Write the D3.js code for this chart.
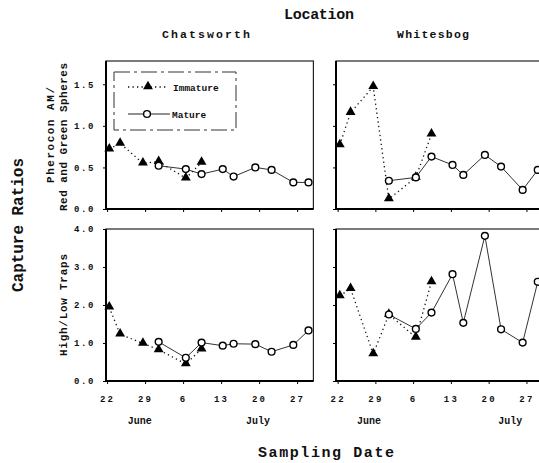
<!DOCTYPE html>
<html>
<head>
<meta charset="utf-8">
<script src="https://cdn.jsdelivr.net/npm/d3@7"></script>
<style>
  html, body { margin: 0; padding: 0; background: #fff; }
  svg { display: block; }
  text { font-family: "Liberation Mono", "DejaVu Sans Mono", monospace; font-weight: bold; fill: #111; }
</style>
</head>
<body>
<svg id="chart" width="539" height="463"></svg>
<script>
// sampling dates, as days after 22 June
const sampleDay = [0.4, 2.4, 6.6, 9.5, 14.5, 17.4, 21.3, 23.3, 27.3, 30.3, 34.3, 37.1];
const weekTicks = [0, 7, 14, 21, 28, 35];
const weekLabels = ["22", "29", "6", "13", "20", "27"];
const monthLabels = ["June", "July"];
const monthDayLeft = [6, 27.8];
const monthDayRight = [5.8, 32];

// Pherocon AM / red and green spheres
const chatsImmSph = [0.72, 0.79, 0.55, 0.57, 0.37, 0.56, null, null, null, null, null, null];
const chatsMatSph = [null, null, null, 0.52, 0.48, 0.42, 0.48, 0.39, 0.50, 0.47, 0.32, 0.32];
const whitImmSph = [0.77, 1.16, 1.47, 0.12, 0.38, 0.90, null, null, null, null, null, null];
const whitMatSph = [null, null, null, 0.34, 0.38, 0.63, 0.53, 0.41, 0.65, 0.51, 0.23, 0.47];

// high / low traps
const chatsImmHL = [1.94, 1.23, 0.99, 0.82, 0.45, 0.84, null, null, null, null, null, null];
const chatsMatHL = [null, null, null, 1.03, 0.61, 1.01, 0.93, 0.98, 0.97, 0.77, 0.95, 1.33];
const whitImmHL = [2.24, 2.43, 0.71, 1.75, 1.15, 2.61, null, null, null, null, null, null];
const whitMatHL = [null, null, null, 1.75, 1.37, 1.80, 2.81, 1.53, 3.82, 1.36, 1.01, 2.61];

const sphTicks = [0, 0.5, 1.0, 1.5];
const hlTicks = [0, 1, 2, 3, 4];

const svg = d3.select("#chart");

// x scales for the two columns
const xLeft = d3.scaleLinear().domain([-0.2, 38]).range([106, 313.4]);
const xRight = d3.scaleLinear().domain([-0.3, 39]).range([336, 548]);
// y scales for the two rows
const ySph = d3.scaleLinear().domain([0, 1.78]).range([209, 61]);
const yHL = d3.scaleLinear().domain([0, 4]).range([381, 229]);

const panels = [
    { x: xLeft, y: ySph, imm: chatsImmSph, mat: chatsMatSph, yLabels: true, xLabels: false, legend: true },
    { x: xRight, y: ySph, imm: whitImmSph, mat: whitMatSph, yLabels: false, xLabels: false },
    { x: xLeft, y: yHL, imm: chatsImmHL, mat: chatsMatHL, yLabels: true, xLabels: true, ticks: hlTicks, months: monthDayLeft },
    { x: xRight, y: yHL, imm: whitImmHL, mat: whitMatHL, yLabels: false, xLabels: true, ticks: hlTicks, months: monthDayRight }
];

function pts(values) {
    return values.map((v, i) => ({ d: sampleDay[i], v: v })).filter(p => p.v !== null);
}

const tri = d3.symbol().type(d3.symbolTriangle).size(42);

panels.forEach(p => {
    const [x0, x1] = p.x.range();
    const [y0, y1] = p.y.range();
    const g = svg.append("g");

    // frame
    g.append("rect")
        .attr("x", x0).attr("y", y1)
        .attr("width", x1 - x0).attr("height", y0 - y1)
        .attr("fill", "none").attr("stroke", "#222").attr("stroke-width", 1.2);
    g.append("path")
        .attr("d", "M" + x0 + "," + y1 + "V" + y0 + "H" + x1)
        .attr("fill", "none").attr("stroke", "#000").attr("stroke-width", 2);

    // y axis
    const ya = g.append("g")
        .attr("transform", "translate(" + x0 + ",0)")
        .call(d3.axisLeft(p.y).tickValues(p.ticks || sphTicks).tickSize(3).tickPadding(8)
            .tickFormat(p.yLabels ? d3.format(".1f") : ""));
    ya.select(".domain").remove();
    ya.selectAll("text").style("font-size", "9px").style("letter-spacing", "1.6px")
        .style("font-family", "'Liberation Mono', monospace");

    // x axis
    const xa = g.append("g")
        .attr("transform", "translate(0," + y0 + ")")
        .call(d3.axisBottom(p.x).tickValues(weekTicks).tickSize(3).tickPadding(12)
            .tickFormat((d, i) => p.xLabels ? weekLabels[i] : ""));
    xa.select(".domain").remove();
    xa.selectAll("text").style("font-size", "9px").style("letter-spacing", "2.2px")
        .style("font-family", "'Liberation Mono', monospace");

    if (p.months) {
        monthLabels.forEach((m, i) => {
            g.append("text")
                .attr("x", p.x(p.months[i])).attr("y", y0 + 43)
                .attr("text-anchor", "middle")
                .style("font-size", "10px")
                .text(m);
        });
    }

    const line = d3.line().x(d => p.x(d.d)).y(d => p.y(d.v));
    const imm = pts(p.imm);
    const mat = pts(p.mat);

    g.append("path")
        .attr("d", line(imm))
        .attr("fill", "none").attr("stroke", "#111")
        .attr("stroke-width", 1.3).attr("stroke-dasharray", "1.3,3.2");
    g.append("path")
        .attr("d", line(mat))
        .attr("fill", "none").attr("stroke", "#333").attr("stroke-width", 1);

    g.selectAll(".tri").data(imm).enter().append("path")
        .attr("class", "tri")
        .attr("d", tri)
        .attr("transform", d => "translate(" + p.x(d.d) + "," + (p.y(d.v) - 0.5) + ")")
        .attr("fill", "#000");
    g.selectAll(".dot").data(mat).enter().append("circle")
        .attr("class", "dot")
        .attr("cx", d => p.x(d.d)).attr("cy", d => p.y(d.v))
        .attr("r", 3.4)
        .attr("fill", "#fff").attr("stroke", "#000").attr("stroke-width", 1.4);

    if (p.legend) {
        const lg = g.append("g");
        lg.append("rect")
            .attr("x", 114).attr("y", 72).attr("width", 122).attr("height", 58)
            .attr("fill", "#fff").attr("stroke", "#333").attr("stroke-width", 1)
            .attr("stroke-dasharray", "16,4,3,4");
        lg.append("line")
            .attr("x1", 128).attr("x2", 168).attr("y1", 87).attr("y2", 87)
            .attr("stroke", "#111").attr("stroke-width", 1.3).attr("stroke-dasharray", "1.3,3.2");
        lg.append("path").attr("d", tri).attr("transform", "translate(148,86.5)").attr("fill", "#000");
        lg.append("text").attr("x", 173).attr("y", 90.5).style("font-size", "9.5px").text("Immature");
        lg.append("line")
            .attr("x1", 128).attr("x2", 170).attr("y1", 114).attr("y2", 114)
            .attr("stroke", "#222").attr("stroke-width", 1);
        lg.append("circle").attr("cx", 147).attr("cy", 114).attr("r", 3.4)
            .attr("fill", "#fff").attr("stroke", "#000").attr("stroke-width", 1.4);
        lg.append("text").attr("x", 172).attr("y", 117.5).style("font-size", "9.5px").text("Mature");
    }
});

// titles
function label(txt, x, y, size, len, rot) {
    const t = svg.append("text")
        .attr("text-anchor", "middle")
        .style("font-size", size + "px")
        .attr("textLength", len).attr("lengthAdjust", "spacing")
        .text(txt);
    if (rot) {
        t.attr("transform", "translate(" + x + "," + y + ") rotate(-90)");
    } else {
        t.attr("x", x).attr("y", y);
    }
}

label("Location", 319, 19, 15, 70);
label("Chatsworth", 206, 38, 11.5, 88);
label("Whitesbog", 433, 38, 11.5, 72);
label("Capture Ratios", 23, 225, 16, 134, true);
label("Pherocon AM/", 54, 135, 11, 96, true);
label("Red and Green Spheres", 67, 137, 11, 148, true);
label("High/Low Traps", 67, 305, 11, 102, true);
label("Sampling Date", 326, 457, 15, 136);
</script>
</body>
</html>
